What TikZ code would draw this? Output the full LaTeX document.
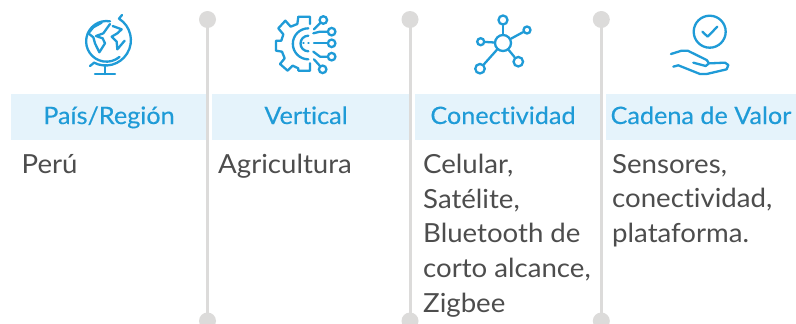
\documentclass[tikz,border=0pt]{standalone}
\usepackage{fontspec}
\setmainfont[FakeStretch=1.05,RawFeature={-liga}]{Lato}
\newfontfamily\headfont[FakeStretch=1.05,FakeBold=0.25,RawFeature={-liga}]{Lato}
\definecolor{iconblue}{HTML}{1F9BD7}
\definecolor{headfill}{HTML}{E5F3FB}
\definecolor{bodytext}{HTML}{4D4D4D}
\definecolor{railgrey}{HTML}{DCDBDA}
\tikzset{
  headbox/.style={fill=headfill,draw=none,inner sep=0pt,minimum height=46pt,anchor=north west},
  headtext/.style={text=iconblue,font=\headfont\fontsize{24}{28}\selectfont,inner sep=0pt,anchor=base},
  bodytxt/.style={text=bodytext,font=\fontsize{26.3}{34.7}\selectfont,inner sep=0pt,anchor=north west,align=left},
  raildot/.style={circle,fill=railgrey,draw=none,minimum size=17pt,inner sep=0pt},
  rail/.style={draw=railgrey,line width=3pt},
  ic/.style={draw=iconblue,line width=2.3pt,line join=round,line cap=round},
  iccirc/.style={circle,draw=iconblue,line width=2.3pt,inner sep=0pt,fill=white},
  cropA/.style={shift={(60,0)},x=0.33333pt,y=-0.33333pt},
  cropH/.style={shift={(665,10)},x=0.33333pt,y=-0.33333pt}
}
\begin{document}
\begin{tikzpicture}[x=1pt,y=-1pt]
\useasboundingbox (0,0) rectangle (796,324);
\fill[white] (0,0) rectangle (796,324);
% header bands
\node[headbox,minimum width=197pt] (h1) at (11,94) {};
\node[headbox,minimum width=198pt] (h2) at (212,94) {};
\node[headbox,minimum width=186pt] (h3) at (414.5,94) {};
\node[headbox,minimum width=190.5pt] (h4) at (605.5,94) {};
% rails
\foreach \n/\xx in {1/207.5,2/410,3/601.3}{
  \node[raildot] (t\n) at (\xx,19.5) {};
  \node[raildot] (b\n) at (\xx,321) {};
  \draw[rail] (t\n.center) -- (b\n.center);
}
% header text
\node[headtext] (l1) at (109,124) {País/Región};
\node[headtext] (l2) at (306,124) {Vertical};
\node[headtext] (l3) at (503,124) {Conectividad};
\node[headtext] (l4) at (701,124) {Cadena de Valor};
% body text
\node[bodytxt] (c1) at (21.5,154) {Perú};
\node[bodytxt] (c2) at (218,154) {Agricultura};
\node[bodytxt] (c3) at (423,154) {Celular,\\Satélite,\\Bluetooth de\\corto alcance,\\Zigbee};
\node[bodytxt] (c4) at (612,154) {Sensores,\\conectividad,\\plataforma.};
% globe
\begin{scope}[cropA]
\draw[ic] (150,64) arc[start angle=-80,end angle=-310,radius=61];
\draw[ic] (186,45) -- (177,56) arc[start angle=-58,end angle=118,radius=76];
\draw[ic] (90,198) -- (100,190);
\draw[ic] (135,200) -- (135,222) (105,222) -- (165,222);
\draw[ic] (125,68) -- (100,82) -- (85,100) -- (100,112) -- (105,130) -- (118,157) -- (135,130) -- (128,115) -- (108,108) -- (130,100) -- (150,72);
\draw[ic] (158,78) -- (185,88) -- (172,100) -- (155,110) -- (170,125) -- (172,148) -- (194,122);
\end{scope}
% gear
\begin{scope}[cropA]
\draw[ic] (750,72) -- (750,50) -- (715,50) -- (712,72) -- (692,80) -- (676,62) -- (655,85) -- (670,103) -- (664,122) -- (648,122) -- (648,152) -- (666,155) -- (674,175) -- (660,192) -- (683,212) -- (698,197);
\draw[ic] (698,197) -- (715,205) -- (715,212) -- (750,212) -- (750,190);
\draw[ic] (745,85) arc[start angle=-90,end angle=-270,radius=46.5];
\draw[ic] (745,107) arc[start angle=-90,end angle=-270,radius=23.5];
\draw[ic] (762,88) -- (781,69);
\draw[ic] (760,100) -- (780,95) -- (803,95);
\draw[ic] (762,130) -- (803,130);
\draw[ic] (730,130) -- (731,130) (745,130) -- (746,130);
\draw[ic] (760,155) -- (780,170) -- (803,170);
\draw[ic] (762,178) -- (780,198);
\node[iccirc,minimum size=7.5pt] (g1) at (790,60) {};
\node[iccirc,minimum size=7.5pt] (g2) at (815,95) {};
\node[iccirc,minimum size=7.5pt] (g3) at (815,130) {};
\node[iccirc,minimum size=7.5pt] (g4) at (815,170) {};
\node[iccirc,minimum size=7.5pt] (g5) at (788,208) {};
\end{scope}
% network
\node[iccirc,minimum size=16pt,fill=none] (n0) at (503,43) {};
\node[iccirc,minimum size=9pt] (n1) at (503,20) {};
\node[iccirc,minimum size=7pt] (n2) at (527,30) {};
\node[iccirc,minimum size=7pt] (n3) at (480.7,41.7) {};
\node[iccirc,minimum size=9.5pt] (n4) at (518.3,61.7) {};
\node[iccirc,minimum size=9.5pt] (n5) at (480,68.7) {};
\foreach \s in {n1,n2,n3,n4,n5}{ \draw[ic] (n0) -- (\s); }
% hand
\node[iccirc,minimum size=32pt,fill=none] (hc) at (709.7,31.7) {};
\begin{scope}[cropH]
\draw[ic] (112,65) -- (128,80) -- (157,50);
\draw[ic] (18,132) -- (50,122) -- (68,122) -- (125,150) -- (132,160) -- (122,168) -- (85,158);
\draw[ic] (25,170) -- (40,166) -- (105,192) -- (125,192) -- (185,178) -- (190,165) -- (180,158) -- (135,160);
\end{scope}
\end{tikzpicture}
\end{document}
